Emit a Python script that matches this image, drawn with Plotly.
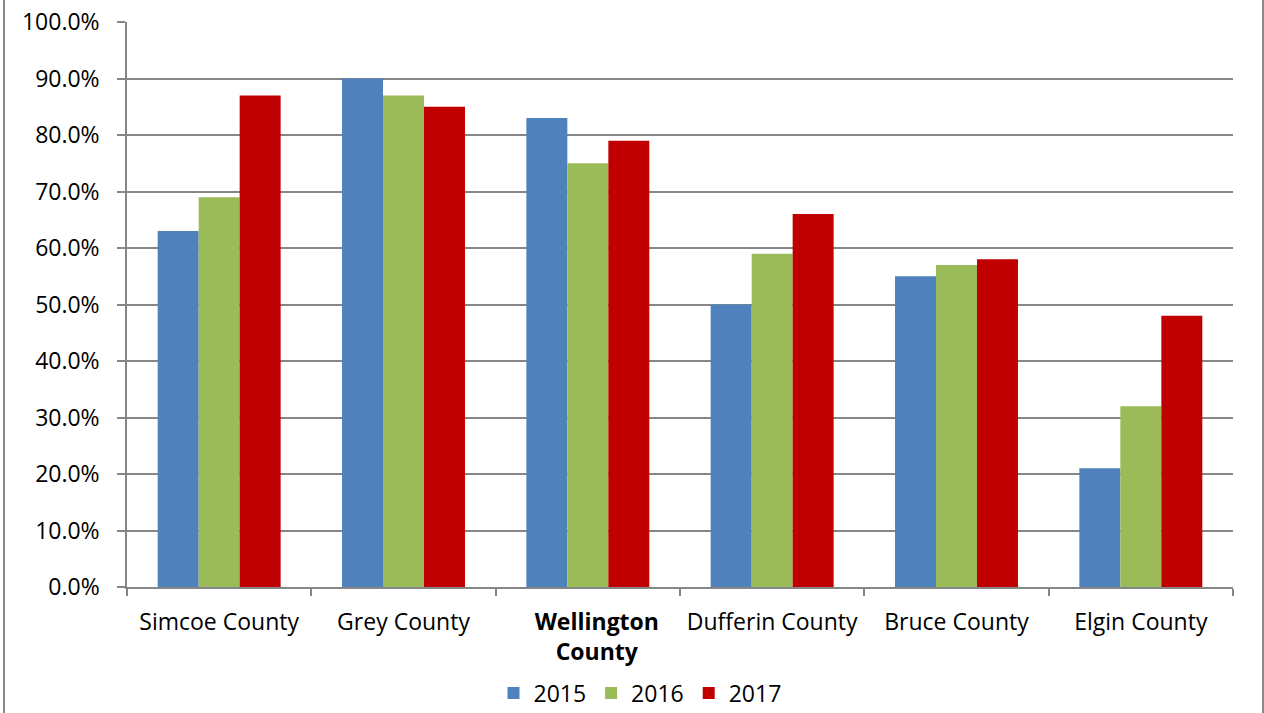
import plotly.graph_objects as go

categories = ["Simcoe County", "Grey County", "Wellington County", "Dufferin County", "Bruce County", "Elgin County"]
tick_labels = ["Simcoe County", "Grey County", "<b>\u00a0\u00a0\u00a0Wellington<br>\u00a0\u00a0\u00a0County</b>", "Dufferin County", "Bruce County", "Elgin County"]
v2015 = [63, 90, 83, 50, 55, 21]
v2016 = [69, 87, 75, 59, 57, 32]
v2017 = [87, 85, 79, 66, 58, 48]
series_names = ["2015", "2016", "2017"]
colors = ["#4F81BD", "#9BBB59", "#C00000"]

W, H = 1264, 713
L, R, T, B = 127, 31, 22, 126
pw, ph = W - L - R, H - T - B

def px_x(x):
    return (x - L) / pw

def px_y(y):
    return (H - B - y) / ph

fig = go.Figure()
for name, vals, c in zip(series_names, [v2015, v2016, v2017], colors):
    fig.add_trace(go.Bar(x=categories, y=vals, name=name, marker=dict(color=c, line=dict(width=0))))

font = "Open Sans, Liberation Sans, sans-serif"
fig.update_layout(
    width=W, height=H,
    margin=dict(l=L, r=R, t=T, b=B, autoexpand=False),
    paper_bgcolor="white", plot_bgcolor="white",
    barmode="group", bargap=0.333, bargroupgap=0,
    font=dict(family=font, size=23, color="#000000"),
    legend=dict(orientation="h", x=px_x(640), y=px_y(693), xanchor="center", yanchor="middle",
                font=dict(size=23), itemwidth=30, tracegroupgap=0, bgcolor="rgba(0,0,0,0)"),
    xaxis=dict(tickmode="array", tickvals=categories, ticktext=tick_labels,
               tickson="boundaries", ticks="outside", ticklen=7, tickcolor="#868686", tickwidth=1.5,
               showline=True, linecolor="#868686", linewidth=1.5, showgrid=False,
               ticklabelstandoff=14, tickfont=dict(size=23), range=[-0.5, 5.5]),
    yaxis=dict(range=[0, 100], tickvals=list(range(0, 101, 10)),
               ticktext=[f"{v:.1f}%" for v in range(0, 101, 10)],
               ticks="outside", ticklen=8, tickcolor="#868686", tickwidth=1.5,
               showline=True, linecolor="#868686", linewidth=1.5,
               showgrid=True, gridcolor="#868686", gridwidth=1.5, zeroline=False,
               ticklabelstandoff=13, tickfont=dict(size=23)),
    shapes=[dict(type="rect", xref="paper", yref="paper",
                 x0=px_x(4), x1=px_x(1263), y0=px_y(730), y1=px_y(-10),
                 line=dict(color="#898989", width=2), fillcolor="rgba(0,0,0,0)", layer="below")],
)

fig.write_html("out.html", config={"displayModeBar": False},
               post_script="document.body.style.margin='0';document.body.style.overflow='hidden';")
